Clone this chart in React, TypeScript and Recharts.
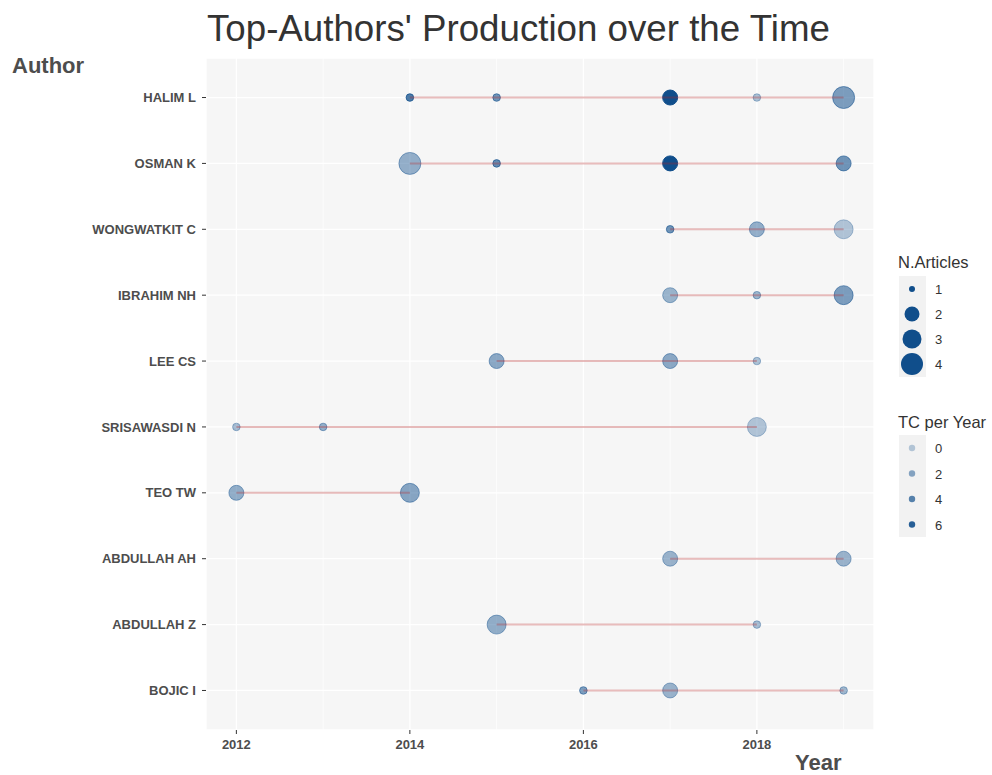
import React from 'react';
import { ScatterChart, Scatter, XAxis, YAxis, CartesianGrid, ReferenceLine } from 'recharts';

const authors = [
  'HALIM L',
  'OSMAN K',
  'WONGWATKIT C',
  'IBRAHIM NH',
  'LEE CS',
  'SRISAWASDI N',
  'TEO TW',
  'ABDULLAH AH',
  'ABDULLAH Z',
  'BOJIC I',
];

const years = [
  [2014, 2015, 2017, 2018, 2019],
  [2014, 2015, 2017, 2019],
  [2017, 2018, 2019],
  [2017, 2018, 2019],
  [2015, 2017, 2018],
  [2012, 2013, 2018],
  [2012, 2014],
  [2017, 2019],
  [2015, 2018],
  [2016, 2017, 2019],
];

const articles = [
  [1, 1, 2, 1, 4],
  [4, 1, 2, 2],
  [1, 2, 3],
  [2, 1, 3],
  [2, 2, 1],
  [1, 1, 3],
  [2, 3],
  [2, 2],
  [3, 1],
  [1, 2, 1],
];

const tcPerYear = [
  [4.5, 3, 7, 0.5, 2.5],
  [1.5, 3.5, 7, 3],
  [3, 1.5, 0.3],
  [1.2, 1.2, 2.5],
  [1.8, 1.8, 0.5],
  [0.8, 1.5, 0.3],
  [1.6, 2],
  [1.3, 1.3],
  [1.6, 0.8],
  [2.5, 1.3, 1],
];

const xTicks = [2012, 2014, 2016, 2018];
const xMinor = [2013, 2015, 2017, 2019];
const sizeBreaks = [1, 2, 3, 4];
const tcBreaks = [0, 2, 4, 6];

const BLUE = '#104E8B';
const TC_MAX = 7;
const radius = (n: number) => [0, 3.8, 7.5, 9.5, 11][n];
const alpha = (tc: number) => Math.min(1, 0.28 + (0.72 * tc) / TC_MAX);

const points = authors.flatMap((a, i) =>
  years[i].map((y, j) => ({ author: a, row: i + 1, year: y, n: articles[i][j], tc: tcPerYear[i][j] }))
);

const Dot = (props: any) => {
  const { cx, cy, payload } = props;
  const a = alpha(payload.tc);
  return (
    <circle cx={cx} cy={cy} r={radius(payload.n)} fill={BLUE} fillOpacity={a} stroke={BLUE} strokeOpacity={a} strokeWidth={1} />
  );
};

const Empty = () => <g />;

const tickStyle = { fontSize: 13, fontWeight: 700, fill: '#4d4d4d' };

export default function App() {
  return (
    <div style={{ position: 'absolute', left: 0, top: 0, width: 992, height: 775, background: '#fff', fontFamily: '"Liberation Sans", Arial, sans-serif' }}>
      <div style={{ position: 'absolute', left: 207, top: 8, fontSize: 36.7, color: '#333', whiteSpace: 'nowrap' }}>
        Top-Authors' Production over the Time
      </div>
      <div style={{ position: 'absolute', left: 12, top: 53, fontSize: 22, fontWeight: 700, color: '#4d4d4d' }}>Author</div>
      <div style={{ position: 'absolute', left: 795, top: 750, fontSize: 22, fontWeight: 700, color: '#4d4d4d' }}>Year</div>

      <div style={{ position: 'absolute', left: 0, top: 0 }}>
        <ScatterChart width={992} height={775} margin={{ top: 58, right: 118, bottom: 0, left: 0 }}>
          <CartesianGrid fill="#f6f6f6" stroke="#ffffff" strokeWidth={1.3} />
          {xMinor.map((x) => (
            <ReferenceLine key={x} x={x} stroke="#ffffff" strokeWidth={0.7} />
          ))}
          <XAxis
            type="number"
            dataKey="year"
            domain={[2011.65, 2019.35]}
            ticks={xTicks}
            allowDataOverflow
            axisLine={false}
            tickLine={{ stroke: '#333' }}
            tickSize={4}
            tickMargin={6}
            tick={tickStyle}
            height={45}
          />
          <YAxis
            type="number"
            dataKey="row"
            domain={[0.4, 10.6]}
            ticks={authors.map((_, i) => i + 1)}
            reversed
            allowDataOverflow
            interval={0}
            axisLine={false}
            tickLine={{ stroke: '#333' }}
            tickSize={4}
            tickMargin={6}
            tick={tickStyle}
            tickFormatter={(v: number) => authors[v - 1] ?? ''}
            width={206}
          />
          <Scatter data={points} shape={Dot} isAnimationActive={false} />
          {authors.map((a, i) => (
            <Scatter
              key={a}
              data={points.filter((p) => p.row === i + 1)}
              shape={Empty}
              line={{ stroke: '#B22222', strokeOpacity: 0.3, strokeWidth: 2 }}
              isAnimationActive={false}
            />
          ))}
        </ScatterChart>
      </div>

      {/* legends */}
      <svg style={{ position: 'absolute', left: 880, top: 240 }} width={112} height={310}>
        <text x={18} y={28} fontSize={16.5} fill="#333">N.Articles</text>
        <rect x={19} y={36} width={27} height={101} fill="#f2f2f2" />
        {sizeBreaks.map((n, k) => (
          <g key={n}>
            <circle cx={32} cy={49 + k * 25} r={radius(n) - (n === 1 ? 0.8 : 0)} fill={BLUE} />
            <text x={55} y={54 + k * 25} fontSize={13} fill="#333">{n}</text>
          </g>
        ))}
        <text x={18} y={188} fontSize={16.5} fill="#333">TC per Year</text>
        <rect x={19} y={195} width={27} height={102} fill="#f2f2f2" />
        {tcBreaks.map((t, k) => (
          <g key={t}>
            <circle cx={32} cy={208 + k * 25.5} r={3.2} fill={BLUE} fillOpacity={alpha(t)} />
            <text x={55} y={213 + k * 25.5} fontSize={13} fill="#333">{t}</text>
          </g>
        ))}
      </svg>
    </div>
  );
}
